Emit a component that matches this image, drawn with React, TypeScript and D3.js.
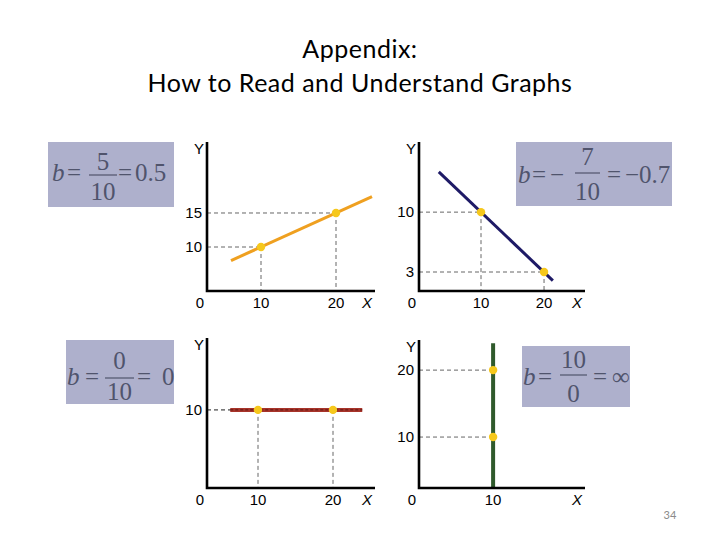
import React from "react";
import * as d3 from "d3";

// marked points on each line
const upPoints = [[10, 10], [20, 15]];
const downPoints = [[10, 10], [20, 3]];
const flatPoints = [[10, 10], [20, 10]];
const vertPoints = [[10, 10], [10, 20]];

// where each drawn line starts and stops
const upEnds = [[6, 8], [24.8, 17.4]];
const downEnds = [[3.3, 14.7], [21.4, 2]];
const flatEnds = [[6.3, 10], [23.9, 10]];
const vertEnds = [[10, 2.39], [10, 24]];

const upXTicks = [10, 20];
const upYTicks = [10, 15];
const downXTicks = [10, 20];
const downYTicks = [3, 10];
const flatXTicks = [10, 20];
const flatYTicks = [10];
const vertXTicks = [10];
const vertYTicks = [10, 20];

const slopeNums = ["5", "7", "0", "10"];
const slopeDens = ["10", "10", "10", "0"];
const slopeSigns = ["", "−", "", ""];
const slopeResults = ["0.5", "−0.7", "0", "∞"];

const panels = [
  { ox: 207, oy: 291, w: 168, h: 149, xd: [2.8, 25.2], yd: [3.53, 25.44], pts: upPoints, ends: upEnds, xt: upXTicks, yt: upYTicks, color: "#efa020", lw: 3 },
  { ox: 419, oy: 291, w: 166, h: 149, xd: [0.16, 26.5], yd: [0.78, 18.2], pts: downPoints, ends: downEnds, xt: downXTicks, yt: downYTicks, color: "#1e1a66", lw: 3 },
  { ox: 207, oy: 488, w: 168, h: 150, xd: [3.2, 25.6], yd: [0, 19.2], pts: flatPoints, ends: flatEnds, xt: flatXTicks, yt: flatYTicks, color: "#a8342a", lw: 4, overlay: true },
  { ox: 419, oy: 488, w: 166, h: 148, xd: [0, 22.4], yd: [2.39, 24.5], pts: vertPoints, ends: vertEnds, xt: vertXTicks, yt: vertYTicks, color: "#2f5a2c", lw: 4, noVert: true },
];

// formula boxes: position and per-piece offsets
const boxes = [
  { x: 48, y: 142, w: 126, h: 65, b: 4, eq1: 19, minus: 0, bar: [41, 69], eq2: 70, res: 87, num: 28, line: 33, main: 39, den: 58 },
  { x: 516, y: 142, w: 156, h: 64, b: 2, eq1: 16, minus: 34, bar: [59, 84], eq2: 91, res: 109, num: 23, line: 31, main: 41, den: 58 },
  { x: 66, y: 340, w: 108, h: 64, b: 1, eq1: 19, minus: 0, bar: [39, 68], eq2: 71, res: 96, num: 29, line: 38, main: 45, den: 60 },
  { x: 522, y: 346, w: 108, h: 61, b: 1, eq1: 16, minus: 0, bar: [38, 65], eq2: 71, res: 90, num: 22, line: 29, main: 39, den: 56 },
];

const sans = '"Liberation Sans", Arial, Helvetica, sans-serif';
const serif = '"Liberation Serif", "Times New Roman", Times, serif';

function Panel({ p }: { p: any }) {
  const x = d3.scaleLinear().domain(p.xd).range([0, p.w]);
  const y = d3.scaleLinear().domain(p.yd).range([0, -p.h]);
  const line = d3.line<number[]>().x(d => x(d[0])).y(d => y(d[1]));
  const guide = { stroke: "#666", strokeWidth: 1, strokeDasharray: "4,3" };
  return (
    <g transform={`translate(${p.ox},${p.oy})`}>
      {p.pts.map((d: number[], i: number) => (
        <g key={i}>
          <line x1={0} x2={x(d[0])} y1={y(d[1])} y2={y(d[1])} {...guide} />
          {!p.noVert && <line x1={x(d[0])} x2={x(d[0])} y1={y(d[1])} y2={0} {...guide} />}
        </g>
      ))}
      <path d={line(p.ends) || ""} stroke={p.color} strokeWidth={p.lw} fill="none" />
      {p.overlay && (
        <path d={line(p.ends) || ""} stroke="#5a1612" strokeWidth={1} strokeDasharray="3,2" fill="none" />
      )}
      {p.pts.map((d: number[], i: number) => (
        <circle key={i} cx={x(d[0])} cy={y(d[1])} r={4.2} fill="#f6c81c" />
      ))}
      <path d={`M0,${-p.h}V0H${p.w}`} stroke="#000" strokeWidth={2.6} fill="none" />
      <g style={{ fontFamily: sans, fontSize: 15 }} fill="#000">
        {p.xt.map((t: number) => (
          <text key={t} x={x(t)} y={17} textAnchor="middle">{t}</text>
        ))}
        {p.yt.map((t: number) => (
          <text key={t} x={-5} y={y(t) + 5} textAnchor="end">{t}</text>
        ))}
        <text x={-7} y={17} textAnchor="middle">0</text>
        <text x={p.w - 8} y={17} textAnchor="middle" fontStyle="italic">X</text>
        <text x={-8} y={-p.h + 12} textAnchor="middle">Y</text>
      </g>
    </g>
  );
}

function Formula({ i }: { i: number }) {
  const b = boxes[i];
  const c = (b.bar[0] + b.bar[1]) / 2;
  return (
    <g transform={`translate(${b.x},${b.y})`} style={{ fontFamily: serif, fontSize: 25 }} fill="#50546c">
      <rect width={b.w} height={b.h} fill="#aeb0cc" />
      <text x={b.b} y={b.main} fontStyle="italic">b</text>
      <text x={b.eq1} y={b.main}>=</text>
      {slopeSigns[i] && <text x={b.minus} y={b.main}>{slopeSigns[i]}</text>}
      <text x={c} y={b.num} textAnchor="middle">{slopeNums[i]}</text>
      <line x1={b.bar[0]} x2={b.bar[1]} y1={b.line} y2={b.line} stroke="#50546c" strokeWidth={1.2} />
      <text x={c} y={b.den} textAnchor="middle">{slopeDens[i]}</text>
      <text x={b.eq2} y={b.main}>=</text>
      <text x={b.res} y={b.main}>{slopeResults[i]}</text>
    </g>
  );
}

export default function App() {
  return (
    <svg width={720} height={540} style={{ position: "absolute", left: 0, top: 0, background: "#fff" }}>
      <rect width={720} height={540} fill="#fff" />
      <g style={{ fontFamily: "Lato, 'Open Sans', sans-serif", fontSize: 25, letterSpacing: 0.5 }} textAnchor="middle" fill="#000">
        <text x={360} y={58}>Appendix:</text>
        <text x={360} y={92}>How to Read and Understand Graphs</text>
      </g>
      {panels.map((p, i) => <Panel key={i} p={p} />)}
      {boxes.map((_, i) => <Formula key={i} i={i} />)}
      <text x={670} y={519} textAnchor="middle" style={{ fontFamily: "Lato, sans-serif", fontSize: 11 }} fill="#8a8a8a">34</text>
    </svg>
  );
}
